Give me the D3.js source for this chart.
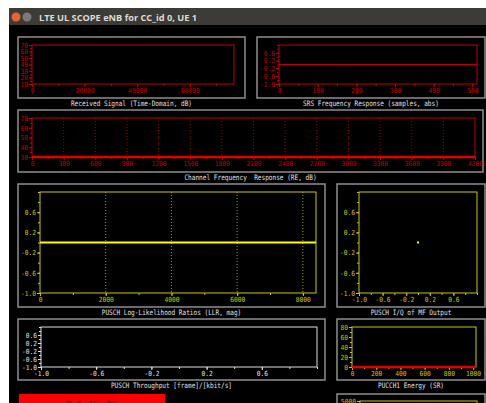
<!DOCTYPE html>
<html>
<head>
<meta charset="utf-8">
<script src="https://cdn.jsdelivr.net/npm/d3@7"></script>
<style>
  body { margin: 0; background: #fff; overflow: hidden; }
  text { font-family: "DejaVu Sans Mono", monospace; white-space: pre; }
</style>
</head>
<body>
<div id="scope"></div>
<script>
// window title and panel labels
const windowTitle = "LTE UL SCOPE eNB for CC_id 0, UE 1";
const buttonLabel = "DL Traffic OFF";

// Received Signal (Time-Domain, dB) - no trace visible
const rxTicksX = [0, 20000, 40000, 60000];
const rxTicksY = [10, 20, 30, 40, 50, 60, 70];
const rxX = [];
const rxY = [];

// SRS Frequency Response (samples, abs)
const srsTicksX = [0, 100, 200, 300, 400, 500];
const srsX = [0, 512];
const srsY = [0, 0];

// Channel Frequency Response (RE, dB)
const chanTicksX = [0, 300, 600, 900, 1200, 1500, 1800, 2100, 2400, 2700, 3000, 3300, 3600, 3900, 4200];
const chanTicksY = [30, 40, 50, 60, 70];
const chanX = [0, 4200];
const chanY = [30, 30];

// PUSCH LLR
const llrTicksX = [0, 2000, 4000, 6000, 8000];
const llrX = [0, 8400];
const llrY = [0, 0];

// symmetric -1..1 tick labels (LLR y, I/Q, throughput, SRS y)
const symTicks = [-1.0, -0.6, -0.2, 0.2, 0.6];

// PUSCH I/Q of MF output
const iqI = [0];
const iqQ = [0];

// PUSCH throughput - empty
const tputX = [];
const tputY = [];

// PUCCH1 Energy (SR)
const pucchTicksX = [0, 200, 400, 600, 800, 1000];
const pucchTicksY = [0, 20, 40, 60, 80];
const pucchX = [0, 1024];
const pucchY = [0, 0];

// bottom right panel (cut off)
const lastTicksY = [5000];

const RED = "#c00000", YEL = "#c8c800", WHT = "#e0e0e0";
const fix1 = v => v.toFixed(1);

const svg = d3.select("#scope").append("svg")
    .attr("width", 486)
    .attr("height", 403);

svg.append("rect").attr("width", 486).attr("height", 403).attr("fill", "#fff");
svg.append("rect").attr("x", 9).attr("y", 8).attr("width", 477).attr("height", 18).attr("fill", "#3c3b37");
svg.append("rect").attr("x", 9).attr("y", 25).attr("width", 477).attr("height", 378).attr("fill", "#000");
svg.append("circle").attr("cx", 16).attr("cy", 17).attr("r", 4.5).attr("fill", "#e9632d");
svg.append("circle").attr("cx", 27).attr("cy", 17).attr("r", 4.5).attr("fill", "#7b7a75");
svg.append("text")
    .attr("x", 39).attr("y", 20.5)
    .attr("fill", "#dfdbd2")
    .style("font-family", "'Open Sans', sans-serif")
    .style("font-weight", "bold")
    .style("font-size", "9px")
    .attr("textLength", 158).attr("lengthAdjust", "spacingAndGlyphs")
    .text(windowTitle);

// squeeze text to the narrow fixed font of the original
const squeeze = (sel, cw) => sel.each(function () {
    const n = this.textContent.length;
    if (n) d3.select(this).attr("textLength", n * cw).attr("lengthAdjust", "spacingAndGlyphs");
});

function drawPanel(p) {
    const g = svg.append("g");
    const [fx0, fy0, fx1, fy1] = p.frame;
    const [px0, py0, px1, py1] = p.plot;

    g.append("rect")
        .attr("x", fx0).attr("y", fy0)
        .attr("width", fx1 - fx0).attr("height", fy1 - fy0)
        .attr("fill", "none").attr("stroke", "#8e8e8e").attr("stroke-width", 1.5);

    const x = d3.scaleLinear().domain(p.xDomain).range([px0, px1]);
    const y = d3.scaleLinear().domain(p.yDomain).range([py1, py0]);

    if (p.grid) {
        g.selectAll(".grid")
            .data(p.xTicks.filter(v => v > p.xDomain[0] && v < p.xDomain[1]))
            .join("line")
            .attr("x1", d => x(d)).attr("x2", d => x(d))
            .attr("y1", py0).attr("y2", py1)
            .attr("stroke", p.axis).attr("stroke-width", 1)
            .attr("stroke-opacity", 0.8)
            .attr("stroke-dasharray", "1,2");
    }

    const styleAxis = (a, labels) => {
        a.attr("font-family", null).attr("font-size", null);
        a.select(".domain").remove();
        a.selectAll("line").attr("stroke", p.axis);
        a.selectAll("text").attr("fill", p.axis).style("font-size", "7px");
        if (labels) squeeze(a.selectAll("text"), 3.75);
    };

    // minor ticks
    if (p.xMinor) {
        g.append("g").attr("transform", `translate(0,${py1})`)
            .call(d3.axisBottom(x).tickValues(d3.range(p.xDomain[0], p.xDomain[1] + 1e-9, p.xMinor)).tickSize(2).tickFormat(""))
            .call(a => styleAxis(a, false));
    }
    if (p.yMinor) {
        g.append("g").attr("transform", `translate(${px0},0)`)
            .call(d3.axisLeft(y).tickValues(d3.range(p.yDomain[0], p.yDomain[1] + 1e-9, p.yMinor)).tickSize(2).tickFormat(""))
            .call(a => styleAxis(a, false));
    }
    // major ticks with labels
    if (p.xTicks) {
        g.append("g").attr("transform", `translate(0,${py1})`)
            .call(d3.axisBottom(x).tickValues(p.xTicks).tickSize(3).tickPadding(1.5).tickFormat(p.xFmt || d3.format("d")))
            .call(a => styleAxis(a, true));
    }
    if (p.yTicks) {
        g.append("g").attr("transform", `translate(${px0},0)`)
            .call(d3.axisLeft(y).tickValues(p.yTicks).tickSize(3).tickPadding(1).tickFormat(p.yFmt || d3.format("d")))
            .call(a => styleAxis(a, true));
    }

    g.append("rect")
        .attr("x", px0).attr("y", py0)
        .attr("width", px1 - px0).attr("height", py1 - py0)
        .attr("fill", "none").attr("stroke", p.axis).attr("stroke-width", 1);

    if (p.lineX && p.lineX.length) {
        const line = d3.line().x((d, i) => x(p.lineX[i])).y((d, i) => y(p.lineY[i]));
        g.append("path").datum(p.lineX)
            .attr("d", line)
            .attr("fill", "none")
            .attr("stroke", p.lineColor)
            .attr("stroke-width", p.lineWidth || 1);
    }
    if (p.ptX) {
        g.selectAll(".pt").data(p.ptX).join("rect")
            .attr("x", (d, i) => x(d) - 1).attr("y", (d, i) => y(p.ptY[i]) - 1)
            .attr("width", 2).attr("height", 2)
            .attr("fill", "#ffff00");
    }

    if (p.title) {
        g.append("text")
            .attr("x", (fx0 + fx1) / 2).attr("y", fy1 + 8)
            .attr("text-anchor", "middle")
            .attr("fill", WHT)
            .style("font-size", "7.5px")
            .text(p.title)
            .call(s => squeeze(s, 3.67));
    }
}

const panels = [
    { frame: [18, 37, 245, 98], plot: [32, 45, 234, 84], xDomain: [0, 76800], yDomain: [10, 70],
      xTicks: rxTicksX, xMinor: 10000, yTicks: rxTicksY, yMinor: 5, axis: RED,
      lineX: rxX, lineY: rxY, lineColor: RED, title: "Received Signal (Time-Domain, dB)" },
    { frame: [257, 37, 485, 98], plot: [279, 45, 477, 84], xDomain: [0, 512], yDomain: [-1, 1],
      xTicks: srsTicksX, xMinor: 50, yTicks: symTicks, yMinor: 0.2, yFmt: fix1, axis: RED,
      lineX: srsX, lineY: srsY, lineColor: RED, title: "SRS Frequency Response (samples, abs)" },
    { frame: [18, 110, 483, 172], plot: [32, 118, 475, 157], xDomain: [0, 4200], yDomain: [30, 70],
      xTicks: chanTicksX, xMinor: 150, yTicks: chanTicksY, yMinor: 5, axis: RED, grid: true,
      lineX: chanX, lineY: chanY, lineColor: "#e00000", lineWidth: 2.5, title: "Channel Frequency  Response (RE, dB)" },
    { frame: [18, 184, 325, 307], plot: [40, 192, 316, 293], xDomain: [0, 8400], yDomain: [-1, 1],
      xTicks: llrTicksX, xMinor: 1000, yTicks: symTicks, yMinor: 0.2, yFmt: fix1, axis: YEL, grid: true,
      lineX: llrX, lineY: llrY, lineColor: "#ffff00", lineWidth: 2, title: "PUSCH Log-Likelihood Ratios (LLR, mag)" },
    { frame: [337, 184, 485, 307], plot: [359, 192, 477, 293], xDomain: [-1, 1], yDomain: [-1, 1],
      xTicks: symTicks, xMinor: 0.2, xFmt: fix1, yTicks: symTicks, yMinor: 0.2, yFmt: fix1, axis: YEL,
      ptX: iqI, ptY: iqQ, title: "PUSCH I/Q of MF Output" },
    { frame: [18, 319, 325, 380], plot: [41, 327, 317, 367], xDomain: [-1, 1], yDomain: [-1, 1],
      xTicks: symTicks, xMinor: 0.2, xFmt: fix1, yTicks: symTicks, yMinor: 0.2, yFmt: fix1, axis: WHT,
      lineX: tputX, lineY: tputY, lineColor: WHT, title: "PUSCH Throughput [frame]/[kbit/s]" },
    { frame: [337, 319, 485, 380], plot: [352, 327, 476, 367], xDomain: [0, 1024], yDomain: [0, 80],
      xTicks: pucchTicksX, xMinor: 100, yTicks: pucchTicksY, yMinor: 10, axis: YEL,
      lineX: pucchX, lineY: pucchY, lineColor: "#e00000", lineWidth: 2.5, title: "PUCCH1 Energy (SR)" },
    { frame: [337, 394, 485, 470], plot: [360, 401, 477, 460], xDomain: [0, 1], yDomain: [0, 5000],
      yTicks: lastTicksY, axis: YEL }
];

panels.forEach(drawPanel);

// red push button at the bottom left
svg.append("rect")
    .attr("x", 19).attr("y", 394)
    .attr("width", 146).attr("height", 26)
    .attr("fill", "#ff0000");
svg.append("text")
    .attr("x", 92).attr("y", 408)
    .attr("text-anchor", "middle")
    .attr("fill", "#000")
    .style("font-size", "8px")
    .text(buttonLabel)
    .call(s => squeeze(s, 3.7));
</script>
</body>
</html>
